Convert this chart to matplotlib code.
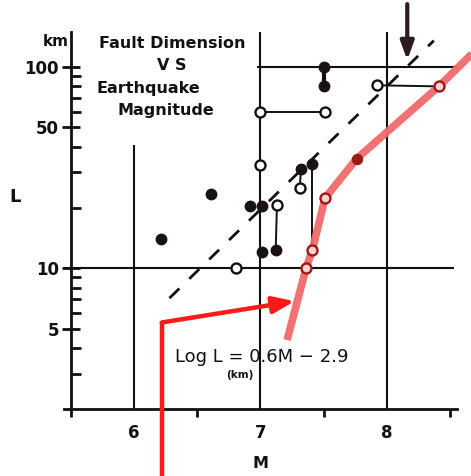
import matplotlib
matplotlib.use("Agg")
import matplotlib.pyplot as plt
from matplotlib.ticker import FixedLocator, NullFormatter

# ---- data ----
filled_M = [6.21, 6.61, 6.92, 7.01, 7.01, 7.12, 7.32, 7.41, 7.50, 7.50]
filled_L = [13.9, 23.3, 20.3, 20.3, 12.0, 12.3, 31.0, 33.0, 100.0, 80.0]

open_M = [6.81, 7.00, 7.51, 7.00, 7.13, 7.31, 7.92]
open_L = [10.0, 60.0, 60.0, 32.5, 20.5, 25.0, 81.0]

red_open_M = [7.36, 7.41, 7.51, 8.41]
red_open_L = [10.0, 12.3, 22.3, 80.0]
red_filled_M = [7.76]
red_filled_L = [35.0]

red_line_M = [7.21, 7.36, 7.41, 7.51, 7.76, 8.41, 8.67]
red_line_L = [4.4, 10.0, 12.3, 22.3, 35.0, 80.0, 116.0]

dash_M = [6.28, 8.37]
dash_L = [7.1, 135.0]

# connector segments (M1, L1, M2, L2)
connectors = [
    (7.00, 60.0, 7.51, 60.0),
    (7.13, 20.5, 7.12, 12.3),
    (7.41, 33.0, 7.41, 12.3),
    (7.31, 25.0, 7.32, 31.0),
    (7.92, 81.0, 8.41, 80.0),
]
dumbbell = (7.50, 100.0, 7.50, 80.0)

# grid segments
vgrid = [(6.0, 2.0, 41.0), (7.0, 2.0, 149.0), (8.0, 2.0, 149.0)]
hgrid = [(10.0, 5.45, 8.53), (100.0, 6.97, 8.55)]

red_arrow_M = [6.22, 6.22, 7.27]
red_arrow_L = [0.92, 5.38, 6.86]
black_arrow_M = 8.16
black_arrow_L = [205.0, 108.0]

y_major = [5, 10, 50, 100]
y_major_labels = ["5", "10", "50", "100"]
y_minor = [3, 4, 6, 7, 8, 9, 20, 30, 40, 60, 70, 80, 90]
x_major = [6, 7, 8]
x_minor = [5.5, 6.5, 7.5, 8.5]

W, H = 471, 476
fig = plt.figure(figsize=(W / 100, H / 100), dpi=100)
ax = fig.add_axes([64.4 / W, (H - 409) / H, (456.6 - 64.4) / W, (409 - 32) / H])
ax.set_yscale("log")
ax.set_xlim(5.45, 8.55)
ax.set_ylim(2.0, 149.0)

ink = "#111111"
for s in ["top", "right"]:
    ax.spines[s].set_visible(False)
ax.spines["left"].set_position(("data", 5.5))
ax.spines["left"].set_linewidth(2.0)
ax.spines["bottom"].set_linewidth(2.0)
ax.spines["left"].set_color(ink)
ax.spines["bottom"].set_color(ink)

ax.yaxis.set_major_locator(FixedLocator(y_major))
ax.set_yticklabels(y_major_labels)
ax.yaxis.set_minor_locator(FixedLocator(y_minor))
ax.yaxis.set_minor_formatter(NullFormatter())
ax.tick_params(axis="y", which="major", direction="inout", length=13, width=2,
               pad=2, labelsize=12, colors=ink)
ax.tick_params(axis="y", which="minor", direction="in", length=7, width=2, colors=ink)

ax.xaxis.set_major_locator(FixedLocator(x_major))
ax.set_xticklabels([str(v) for v in x_major])
ax.xaxis.set_minor_locator(FixedLocator(x_minor))
ax.xaxis.set_minor_formatter(NullFormatter())
ax.tick_params(axis="x", which="major", length=0, pad=11, labelsize=12, colors=ink)
ax.tick_params(axis="x", which="minor", direction="out", length=6, width=2, colors=ink)
for lab in ax.get_xticklabels() + ax.get_yticklabels():
    lab.set_fontweight("bold")

# grid
for m, l1, l2 in vgrid:
    ax.plot([m, m], [l1, l2], color=ink, lw=1.5, zorder=1, solid_capstyle="butt")
for l, m1, m2 in hgrid:
    ax.plot([m1, m2], [l, l], color=ink, lw=1.5, zorder=1, solid_capstyle="butt")

# dashed trend
ax.plot(dash_M, dash_L, color=ink, lw=2.0, ls=(0, (5, 5)), zorder=2)

# connectors
for m1, l1, m2, l2 in connectors:
    ax.plot([m1, m2], [l1, l2], color=ink, lw=1.4, zorder=3)
ax.plot([dumbbell[0], dumbbell[2]], [dumbbell[1], dumbbell[3]], color=ink, lw=3, zorder=3)

# red line
ax.plot(red_line_M, red_line_L, color="#f06a6a", lw=5.5, alpha=0.95, zorder=4,
        clip_on=False, solid_capstyle="butt")

# markers
ax.plot(filled_M, filled_L, "o", ms=7.5, color="#1a1212", zorder=5)
ax.plot(open_M, open_L, "o", ms=7.2, mfc="white", mec=ink, mew=1.7, zorder=5)
ax.plot(red_open_M, red_open_L, "o", ms=7.2, mfc="#fbd3d3", mec="#a01818", mew=1.7, zorder=6)
ax.plot(red_filled_M, red_filled_L, "o", ms=7.2, color="#9a1a1a", zorder=6)

# bright red arrow
ax.plot(red_arrow_M[:2], red_arrow_L[:2], color="#ff1a1a", lw=3.2, zorder=7,
        clip_on=False, solid_capstyle="butt")
ax.annotate("", xy=(red_arrow_M[2], red_arrow_L[2]), xytext=(red_arrow_M[1], red_arrow_L[1]),
            arrowprops=dict(arrowstyle="-|>,head_length=1.3,head_width=0.5",
                            color="#ff1a1a", lw=3.2, shrinkA=0, shrinkB=0),
            zorder=7, annotation_clip=False)

# dark arrow at top
ax.annotate("", xy=(black_arrow_M, black_arrow_L[1]), xytext=(black_arrow_M, black_arrow_L[0]),
            arrowprops=dict(arrowstyle="-|>,head_length=1.1,head_width=0.4",
                            color="#2b1d1d", lw=3.0, shrinkA=0, shrinkB=0),
            zorder=7, annotation_clip=False)

def ftxt(x, y, s, **kw):
    fig.text(x / W, 1 - y / H, s, **kw)

bold = dict(fontweight="bold", color=ink, family="DejaVu Sans")
ftxt(56, 42, "km", ha="center", va="center", fontsize=11, **bold)
ftxt(172, 43, "Fault Dimension", ha="center", va="center", fontsize=11.5, **bold)
ftxt(172, 66, "V S", ha="center", va="center", fontsize=11.5, **bold)
ftxt(148, 88, "Earthquake", ha="center", va="center", fontsize=11.5, **bold)
ftxt(166, 110, "Magnitude", ha="center", va="center", fontsize=11.5, **bold)
ftxt(15, 197, "L", ha="center", va="center", fontsize=13, **bold)
ftxt(261, 464, "M", ha="center", va="center", fontsize=11.5, **bold)
ftxt(175, 357, "Log L = 0.6M \u2212 2.9", ha="left", va="center", fontsize=13,
     color=ink, family="DejaVu Sans", fontweight="medium")
ftxt(240, 375, "(km)", ha="center", va="center", fontsize=7.5, **bold)

fig.savefig("out.png", dpi=100)
